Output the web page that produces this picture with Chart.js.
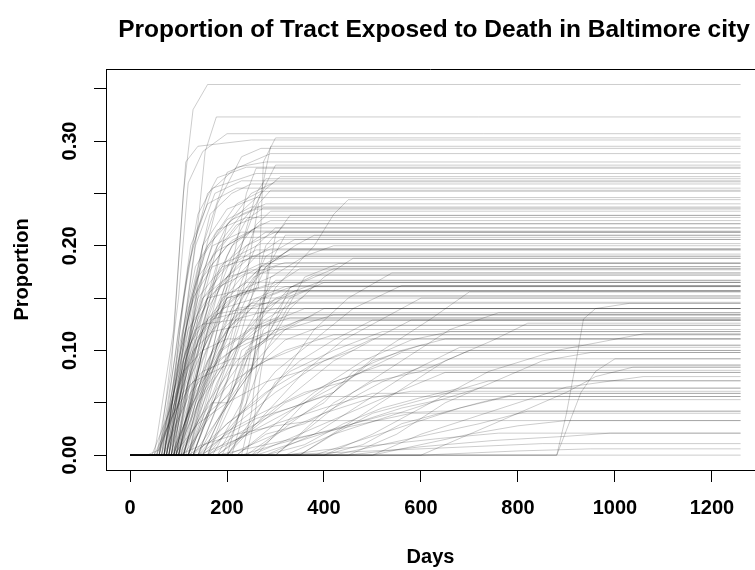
<!DOCTYPE html>
<html>
<head>
<meta charset="utf-8">
<title>Proportion of Tract Exposed to Death</title>
<script src="https://cdn.jsdelivr.net/npm/chart.js@4.4.1/dist/chart.umd.min.js"></script>
<style>
  html, body { margin: 0; padding: 0; background: #fff; }
  #wrap { width: 755px; height: 570px; position: relative; }
</style>
</head>
<body>
<div id="wrap"><canvas id="exposure"></canvas></div>
<script>
// Cumulative proportion of each tract exposed, as [day, proportion] knots.
// Every tract sits at 0 from day 0 until its first knot and holds its last value to the end.
const lastDay = 1259;

const earlyTracts = [
  [[55,0],[85,0.08],[110,0.25],[130,0.33],[160,0.354]],
  [[70,0],[110,0.12],[140,0.22],[155,0.29],[178,0.323]],
  [[60,0],[100,0.15],[120,0.26],[150,0.29],[200,0.307]],
  [[50,0],[90,0.12],[115,0.28],[140,0.295],[250,0.301]],
  [[80,0],[130,0.15],[180,0.24],[230,0.285],[270,0.293]],
  [[85,0],[120,0.1],[150,0.2],[200,0.27],[290,0.288]],
  [[70,0],[120,0.18],[160,0.25],[220,0.275],[280,0.28]],
  [[95,0],[140,0.12],[190,0.2],[260,0.24],[300,0.277]],
  [[75,0],[110,0.15],[140,0.23],[180,0.265],[240,0.275]],
  [[65,0],[100,0.12],[130,0.2],[170,0.255],[260,0.269]],
  [[90,0],[140,0.16],[200,0.22],[270,0.25],[310,0.266]],
  [[70,0],[105,0.1],[135,0.2],[175,0.25],[230,0.262]],
  [[100,0],[150,0.12],[200,0.22],[250,0.25],[300,0.261]],
  [[80,0],[125,0.15],[165,0.23],[210,0.25],[250,0.259]],
  [[60,0],[95,0.1],[125,0.2],[160,0.24],[220,0.255]],
  [[85,0],[130,0.14],[175,0.21],[220,0.24],[270,0.252]],
  [[75,0],[115,0.12],[150,0.2],[200,0.235],[260,0.246]],
  [[95,0],[140,0.13],[180,0.2],[230,0.23],[280,0.24]],
  [[70,0],[110,0.12],[150,0.19],[200,0.225],[250,0.237]],
  [[105,0],[150,0.1],[200,0.19],[240,0.225],[275,0.236]],
  [[80,0],[120,0.14],[160,0.2],[210,0.225],[260,0.235]],
  [[90,0],[130,0.12],[170,0.19],[220,0.22],[270,0.229]],
  [[65,0],[100,0.1],[135,0.18],[180,0.215],[240,0.227]],
  [[100,0],[160,0.13],[210,0.19],[250,0.215],[290,0.224]],
  [[85,0],[125,0.12],[165,0.18],[210,0.205],[260,0.217]],
  [[75,0],[115,0.1],[150,0.17],[200,0.2],[250,0.214]],
  [[110,0],[160,0.1],[200,0.17],[240,0.2],[280,0.213]],
  [[95,0],[140,0.11],[185,0.18],[240,0.2],[300,0.213]],
  [[70,0],[105,0.1],[140,0.17],[180,0.195],[230,0.208]],
  [[100,0],[150,0.1],[200,0.16],[260,0.19],[310,0.206]],
  [[85,0],[130,0.11],[175,0.17],[220,0.19],[270,0.202]],
  [[90,0],[135,0.1],[180,0.16],[230,0.185],[290,0.197]],
  [[75,0],[110,0.09],[150,0.15],[200,0.18],[260,0.196]],
  [[60,0],[95,0.08],[130,0.15],[170,0.18],[230,0.19]],
  [[100,0],[150,0.09],[200,0.15],[260,0.175],[320,0.184]],
  [[80,0],[120,0.1],[160,0.15],[210,0.17],[270,0.183]],
  [[110,0],[160,0.08],[210,0.14],[255,0.17],[300,0.18]],
  [[70,0],[110,0.09],[150,0.15],[200,0.17],[250,0.177]],
  [[95,0],[140,0.08],[190,0.14],[240,0.16],[300,0.172]],
  [[85,0],[125,0.08],[170,0.13],[230,0.155],[300,0.165]],
  [[100,0],[150,0.07],[200,0.12],[260,0.15],[320,0.161]],
  [[75,0],[115,0.08],[160,0.13],[210,0.15],[260,0.157]],
  [[90,0],[140,0.07],[190,0.12],[250,0.145],[310,0.156]],
  [[80,0],[120,0.07],[170,0.12],[220,0.14],[290,0.146]],
  [[90,0],[135,0.06],[185,0.1],[245,0.12],[300,0.131]],
  [[85,0],[130,0.05],[180,0.09],[240,0.11],[300,0.12]],
  [[60,0],[90,0.06],[120,0.12],[160,0.15],[220,0.157]],
  [[70,0],[100,0.07],[135,0.12],[180,0.135],[240,0.14]],
  [[55,0],[85,0.05],[115,0.1],[150,0.125],[210,0.129]],
  [[80,0],[110,0.08],[140,0.15],[190,0.18],[250,0.188]],
  [[65,0],[95,0.07],[125,0.14],[170,0.2],[230,0.213]],
  [[90,0],[120,0.06],[150,0.12],[200,0.15],[280,0.161]],
  [[100,0],[130,0.05],[170,0.1],[220,0.13],[300,0.14]],
  [[75,0],[105,0.06],[140,0.11],[190,0.14],[260,0.15]],
  [[110,0],[150,0.06],[190,0.12],[230,0.16],[270,0.18]],
  [[85,0],[120,0.07],[160,0.13],[230,0.17],[330,0.196]],
  [[45,0],[80,0.04],[110,0.08],[150,0.1],[200,0.111]],
  [[50,0],[80,0.03],[110,0.06],[150,0.08],[210,0.092]],
  [[35,0],[60,0.005],[90,0.04],[130,0.07],[200,0.086]],
  [[120,0],[150,0.04],[180,0.09],[210,0.13],[250,0.145]],
  [[95,0],[125,0.05],[155,0.11],[190,0.15],[240,0.165]],
  [[90,0],[140,0.03],[200,0.05],[280,0.07],[360,0.081]],
  [[80,0],[110,0.06],[135,0.1],[160,0.14],[200,0.17],[250,0.19]],
  [[65,0],[90,0.04],[115,0.09],[140,0.13],[180,0.16],[240,0.174]],
  [[75,0],[100,0.05],[130,0.1],[160,0.15],[210,0.2],[270,0.221]],
  [[95,0],[125,0.04],[160,0.09],[200,0.12],[250,0.14],[320,0.152]],
  [[55,0],[80,0.03],[105,0.07],[130,0.1],[170,0.118],[230,0.124]],
  [[105,0],[135,0.05],[170,0.08],[210,0.12],[270,0.15],[340,0.162]],
  [[125,0],[160,0.05],[190,0.1],[225,0.16],[260,0.2],[300,0.217]],
  [[60,0],[85,0.04],[110,0.08],[135,0.11],[170,0.13],[220,0.136]],
  [[115,0],[145,0.05],[185,0.1],[230,0.15],[280,0.18],[330,0.197]],
  [[90,0],[120,0.04],[150,0.07],[190,0.1],[250,0.12],[330,0.131]],
  [[70,0],[95,0.03],[125,0.06],[160,0.08],[210,0.1],[280,0.115]]
];

const midTracts = [
  [[90,0],[150,0.1],[200,0.15],[265,0.16],[275,0.28],[300,0.303]],
  [[100,0],[160,0.12],[230,0.2],[270,0.25],[290,0.295]],
  [[110,0],[170,0.1],[210,0.18],[240,0.25],[260,0.274]],
  [[120,0],[180,0.12],[230,0.2],[260,0.25],[280,0.264]],
  [[130,0],[190,0.08],[240,0.17],[265,0.24],[290,0.253]],
  [[150,0],[210,0.06],[260,0.12],[300,0.16],[380,0.2],[420,0.23],[450,0.244]],
  [[120,0],[170,0.09],[220,0.17],[260,0.22],[290,0.233]],
  [[140,0],[200,0.07],[250,0.15],[280,0.2],[320,0.221]],
  [[130,0],[180,0.06],[230,0.13],[280,0.18],[340,0.2],[380,0.21]],
  [[160,0],[220,0.06],[260,0.12],[290,0.17],[360,0.19],[420,0.2]],
  [[120,0],[170,0.08],[220,0.14],[270,0.18],[330,0.192]],
  [[180,0],[240,0.05],[280,0.1],[330,0.14],[400,0.17],[460,0.188]],
  [[140,0],[190,0.06],[240,0.12],[290,0.16],[350,0.178]],
  [[200,0],[260,0.04],[320,0.08],[380,0.12],[450,0.15],[540,0.174]],
  [[120,0],[180,0.07],[240,0.12],[300,0.15],[400,0.167]],
  [[160,0],[230,0.04],[300,0.08],[380,0.11],[460,0.14],[560,0.162]],
  [[130,0],[180,0.06],[230,0.11],[280,0.14],[340,0.157]],
  [[250,0],[330,0.03],[420,0.06],[520,0.1],[620,0.13],[700,0.156]],
  [[110,0],[160,0.06],[210,0.1],[280,0.13],[360,0.152]],
  [[200,0],[280,0.04],[360,0.08],[440,0.11],[520,0.13],[600,0.15]],
  [[140,0],[200,0.05],[260,0.09],[320,0.12],[400,0.14]],
  [[95,0],[150,0.06],[210,0.1],[280,0.125],[360,0.14]],
  [[120,0],[170,0.05],[230,0.09],[300,0.12],[380,0.134]],
  [[180,0],[260,0.03],[340,0.06],[420,0.09],[500,0.11],[580,0.129]],
  [[105,0],[160,0.05],[220,0.09],[290,0.115],[350,0.129]],
  [[130,0],[190,0.04],[250,0.08],[320,0.11],[400,0.124]],
  [[220,0],[300,0.03],[380,0.06],[480,0.09],[580,0.11],[660,0.118]],
  [[110,0],[170,0.04],[240,0.08],[320,0.1],[420,0.115]],
  [[150,0],[220,0.03],[300,0.06],[400,0.09],[500,0.111]],
  [[100,0],[150,0.04],[210,0.07],[280,0.09],[360,0.105]],
  [[280,0],[380,0.02],[480,0.05],[580,0.08],[680,0.103]],
  [[130,0],[200,0.03],[280,0.06],[370,0.085],[460,0.1]],
  [[160,0],[240,0.02],[320,0.05],[420,0.07],[520,0.086]],
  [[250,0],[350,0.02],[450,0.04],[550,0.06],[650,0.079]],
  [[120,0],[190,0.02],[270,0.04],[360,0.06],[450,0.071]],
  [[200,0],[300,0.02],[400,0.04],[500,0.055],[580,0.061]],
  [[140,0],[220,0.015],[300,0.03],[400,0.045],[500,0.059]],
  [[260,0],[360,0.015],[460,0.03],[560,0.045],[640,0.053]],
  [[180,0],[280,0.01],[380,0.02],[480,0.03],[580,0.04]],
  [[200,0],[225,0.04],[250,0.1],[270,0.15],[300,0.167]],
  [[210,0],[240,0.05],[265,0.12],[285,0.18],[320,0.21]],
  [[190,0],[220,0.03],[250,0.08],[275,0.12],[310,0.134]],
  [[130,0],[170,0.05],[200,0.05],[230,0.1],[290,0.12],[330,0.15],[400,0.165]],
  [[150,0],[190,0.04],[250,0.08],[270,0.13],[330,0.16],[380,0.172]],
  [[170,0],[230,0.05],[260,0.1],[300,0.12],[360,0.17],[430,0.183]],
  [[110,0],[140,0.05],[200,0.09],[230,0.14],[280,0.19],[340,0.206]],
  [[160,0],[210,0.06],[240,0.1],[280,0.11],[330,0.16],[420,0.178]],
  [[120,0],[160,0.04],[210,0.06],[250,0.1],[320,0.12],[420,0.134]],
  [[200,0],[250,0.03],[300,0.07],[350,0.09],[420,0.11],[500,0.129]],
  [[140,0],[200,0.03],[260,0.05],[330,0.08],[420,0.1],[520,0.118]],
  [[240,0],[300,0.02],[360,0.05],[420,0.06],[500,0.09],[600,0.105]],
  [[180,0],[240,0.02],[320,0.04],[400,0.06],[480,0.08],[560,0.098]],
  [[260,0],[320,0.03],[400,0.05],[460,0.08],[560,0.1],[650,0.111]],
  [[220,0],[280,0.02],[360,0.03],[440,0.05],[520,0.07],[600,0.084]],
  [[160,0],[220,0.02],[300,0.04],[360,0.05],[420,0.07],[480,0.079]],
  [[140,0],[200,0.02],[260,0.035],[330,0.045],[400,0.056]],
  [[230,0],[300,0.01],[380,0.02],[460,0.03],[540,0.04],[640,0.042]],
  [[100,0],[150,0.01],[220,0.02],[300,0.028],[380,0.033]],
  [[230,0],[250,0.04],[265,0.1],[280,0.16],[300,0.21],[330,0.229]],
  [[240,0],[255,0.03],[270,0.08],[290,0.13],[320,0.15],[380,0.161]]
];

const lateTracts = [
  [[880,0],[900,0.04],[920,0.09],[935,0.13],[960,0.14],[1030,0.145]],
  [[300,0],[380,0.03],[460,0.06],[560,0.09],[660,0.12],[760,0.136]],
  [[350,0],[450,0.03],[550,0.06],[650,0.09],[750,0.11],[820,0.126]],
  [[400,0],[500,0.02],[620,0.05],[740,0.08],[880,0.1],[1060,0.116]],
  [[450,0],[550,0.02],[650,0.05],[750,0.07],[850,0.09],[950,0.098]],
  [[880,0],[905,0.03],[930,0.06],[960,0.08],[1000,0.092]],
  [[600,0],[700,0.02],[800,0.04],[900,0.06],[960,0.075],[1037,0.084]],
  [[500,0],[600,0.02],[700,0.035],[800,0.05],[900,0.065],[1058,0.075]],
  [[320,0],[420,0.02],[520,0.035],[620,0.05],[720,0.064]],
  [[380,0],[480,0.015],[580,0.03],[680,0.045],[780,0.056]],
  [[420,0],[520,0.01],[620,0.02],[720,0.03],[820,0.042]],
  [[500,0],[600,0.01],[700,0.02],[800,0.028],[900,0.033]],
  [[450,0],[600,0.008],[750,0.014],[900,0.018],[990,0.021]],
  [[300,0],[500,0.004],[700,0.008],[850,0.011]],
  [[600,0],[800,0.004],[950,0.006]],
  [[300,0],[350,0.02],[420,0.05],[500,0.07],[600,0.08],[700,0.1]],
  [[350,0],[420,0.02],[500,0.04],[580,0.05],[660,0.06],[740,0.071]],
  [[280,0],[360,0.01],[440,0.03],[520,0.045],[600,0.055],[680,0.064]],
  [[400,0],[480,0.01],[560,0.03],[640,0.04],[720,0.05],[800,0.059]],
  [[320,0],[400,0.005],[520,0.01],[640,0.016],[760,0.021]],
  [[0,0]]
];

const dayTicks = [0, 200, 400, 600, 800, 1000, 1200];
const proportionTicks = [0, 0.05, 0.1, 0.15, 0.2, 0.25, 0.3, 0.35];
const proportionLabels = [0, 0.1, 0.2, 0.3];

const tracts = [...earlyTracts, ...midTracts, ...lateTracts];

const datasets = tracts.map(knots => {
  const pts = knots.map(([d, v]) => ({ x: d, y: v }));
  if (pts[0].x !== 0) pts.unshift({ x: 0, y: 0 });
  pts.push({ x: lastDay, y: pts[pts.length - 1].y });
  return {
    data: pts,
    borderColor: 'rgba(0, 0, 0, 0.2)',
    borderWidth: 1,
    pointRadius: 0,
    tension: 0,
    fill: false
  };
});

const font = "'Liberation Sans', Arial, Helvetica, sans-serif";

// title is centred over the plot region, not the canvas
const plotTitle = {
  id: 'plotTitle',
  afterDraw(chart) {
    const { ctx, chartArea } = chart;
    ctx.save();
    // top edge of the frame (left and bottom come from the axes)
    ctx.strokeStyle = '#000';
    ctx.lineWidth = 1;
    ctx.beginPath();
    ctx.moveTo(chartArea.left, chartArea.top + 0.5);
    ctx.lineTo(chartArea.right, chartArea.top + 0.5);
    ctx.stroke();

    ctx.fillStyle = '#000';
    ctx.font = `bold 24.5px ${font}`;
    ctx.textAlign = 'center';
    ctx.textBaseline = 'alphabetic';
    ctx.fillText('Proportion of Tract Exposed to Death in Baltimore city', 434, 37);
    ctx.restore();
  }
};

new Chart(document.getElementById('exposure'), {
  type: 'line',
  data: { datasets },
  plugins: [plotTitle],
  options: {
    responsive: true,
    maintainAspectRatio: false,
    animation: false,
    layout: { padding: { top: 69, right: 0, bottom: 0, left: 0 } },
    plugins: {
      legend: { display: false },
      tooltip: { enabled: false }
    },
    scales: {
      x: {
        type: 'linear',
        min: -49.5,
        max: 1288.7,
        afterBuildTicks: scale => { scale.ticks = dayTicks.map(v => ({ value: v })); },
        afterFit: scale => { scale.height = 100; },
        grid: { drawOnChartArea: false, drawTicks: true, tickLength: 12, color: '#000' },
        border: { display: true, color: '#000', width: 1 },
        ticks: {
          color: '#000',
          padding: 14,
          autoSkip: false,
          maxRotation: 0,
          font: { family: font, size: 20, weight: 'bold' },
          callback: v => String(v)
        },
        title: {
          display: true,
          text: 'Days',
          color: '#000',
          padding: { top: 0, bottom: 1 },
          font: { family: font, size: 20, weight: 'bold' }
        }
      },
      y: {
        type: 'linear',
        min: -0.0142,
        max: 0.3688,
        afterBuildTicks: scale => { scale.ticks = proportionTicks.map(v => ({ value: v })); },
        afterFit: scale => { scale.width = 106; },
        grid: { drawOnChartArea: false, drawTicks: true, tickLength: 12, color: '#000' },
        border: { display: true, color: '#000', width: 1 },
        ticks: {
          color: '#000',
          padding: 4.5,
          autoSkip: false,
          minRotation: 90,
          maxRotation: 90,
          crossAlign: 'center',
          font: { family: font, size: 20, weight: 'bold' },
          callback: v => proportionLabels.some(p => Math.abs(p - v) < 1e-9) ? v.toFixed(2) : ''
        },
        title: {
          display: true,
          text: 'Proportion',
          color: '#000',
          padding: { top: 10, bottom: 0 },
          font: { family: font, size: 20, weight: 'bold' }
        }
      }
    }
  }
});
</script>
</body>
</html>
